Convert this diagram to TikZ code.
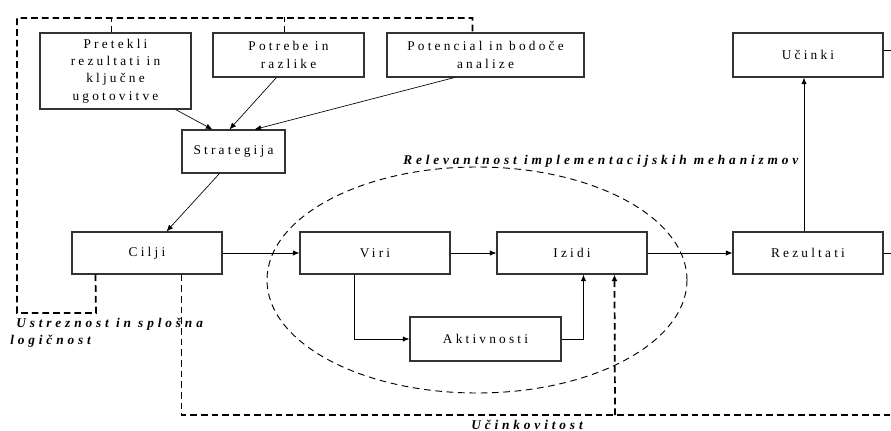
\documentclass[tikz,border=0pt]{standalone}
\usepackage{fontspec}
\setmainfont{Liberation Serif}[LetterSpace=24]
\newfontfamily\evalfont{Liberation Serif}[LetterSpace=29]
\usepackage{tikz}
\usetikzlibrary{arrows.meta, positioning, calc}

\begin{document}
\begin{tikzpicture}[
    x=0.75pt, y=-0.75pt,
    block/.style={draw=black!80, line width=0.8pt, align=center,
                  inner sep=0pt, font=\fontsize{10}{13}\selectfont},
    arrow/.style={-{Latex[length=5pt, width=4pt]}, line width=0.5pt},
    evalline/.style={line width=1.3pt, dash pattern=on 5pt off 3pt},
    evalarrow/.style={evalline, -{Latex[length=5pt, width=4.5pt]}},
    scopeline/.style={line width=0.7pt, dash pattern=on 5pt off 3.5pt},
    evallabel/.style={font=\evalfont\fontsize{10}{12.5}\selectfont\bfseries\itshape,
                      inner sep=0pt, align=left},
]
    \useasboundingbox (0,0) rectangle (891,431);

    % top row
    \node[block, minimum width=113.25pt, minimum height=57pt] (pretekli) at (115.5,71)
        {Pretekli\\rezultati in\\ključne\\ugotovitve};
    \node[block, minimum width=113.25pt, minimum height=33pt] (potrebe) at (288.5,55)
        {Potrebe in\\razlike};
    \node[block, minimum width=147.75pt, minimum height=33pt] (potencial) at (485.5,55)
        {Potencial in bodoče\\analize};
    \node[block, minimum width=112.5pt, minimum height=33pt] (ucinki) at (808,55) {Učinki};
    \node[block, minimum width=77.25pt, minimum height=32.25pt] (strategija) at (233.5,151.5) {Strategija};

    % main row
    \node[block, minimum width=112.5pt, minimum height=31.5pt] (cilji) at (147,253) {Cilji};
    \node[block, minimum width=112.5pt, minimum height=31.5pt] (viri) at (375,253) {Viri};
    \node[block, minimum width=112.5pt, minimum height=31.5pt] (izidi) at (572,253) {Izidi};
    \node[block, minimum width=112.5pt, minimum height=31.5pt] (rezultati) at (808,253) {Rezultati};
    \node[block, minimum width=113.25pt, minimum height=33pt] (aktivnosti) at (485.5,339) {Aktivnosti};

    \draw[arrow] ($(pretekli.south east)+(-16,0)$) -- ($(strategija.north west)+(31,0)$);
    \draw[arrow] ($(potrebe.south west)+(64,0)$) -- ($(strategija.north west)+(48,0)$);
    \draw[arrow] ($(potencial.south west)+(68,0)$) -- ($(strategija.north west)+(73,0)$);
    \draw[arrow] ($(strategija.south west)+(38,0)$) -- ($(cilji.north west)+(95,0)$);
    \draw[arrow] (cilji) -- (viri);
    \draw[arrow] (viri) -- (izidi);
    \draw[arrow] (izidi) -- (rezultati);
    \draw[arrow] ($(rezultati.north)+(-4,0)$) -- ($(ucinki.south)+(-4,0)$);
    \draw[arrow] ($(viri.south west)+(55,0)$) |- (aktivnosti.west);
    \draw[arrow] (aktivnosti.east) -| ($(izidi.south west)+(87,0)$);

    % lines running off the right edge
    \coordinate (ucinkiend) at (891,50);
    \coordinate (rezend) at (891,253);
    \draw[line width=0.5pt] (ucinki.east |- ucinkiend) -- (ucinkiend);
    \draw[line width=0.5pt] (rezultati.east) -- (rezend);

    % implementation scope
    \draw[scopeline] (477,280) ellipse [x radius=157.5pt, y radius=84.75pt];
    \node[evallabel, anchor=west] (relevance) at (403,161)
        {Relevantnost implementacijskih mehanizmov};

    % relevance and coherence loop
    \coordinate (loopA) at (96,313);
    \coordinate (loopB) at (17,18);
    \draw[evalline] ($(cilji.south west)+(24,0)$) -- (loopA) -| (loopB)
        -| ($(potencial.north west)+(86,0)$);
    \draw[evalline] ($(pretekli.north west)+(72,0)$) -- ++(0,-15);
    \draw[evalline] ($(potrebe.north west)+(72,0)$) -- ++(0,-15);
    \node[evallabel, anchor=north west] (coherence) at (10,318)
        {\hspace{4.5pt}Ustreznost in splošna\\logičnost};

    % efficiency
    \coordinate (effend) at (891,415);
    \coordinate (effjoin) at (615,415);
    \draw[evalline] ($(cilji.south west)+(110,0)$) |- (effend);
    \draw[evalarrow] (effjoin) -- ($(izidi.south west)+(118,0)$);
    \node[evallabel, anchor=south] (efficiency) at (527,430) {Učinkovitost};
\end{tikzpicture}
\end{document}
